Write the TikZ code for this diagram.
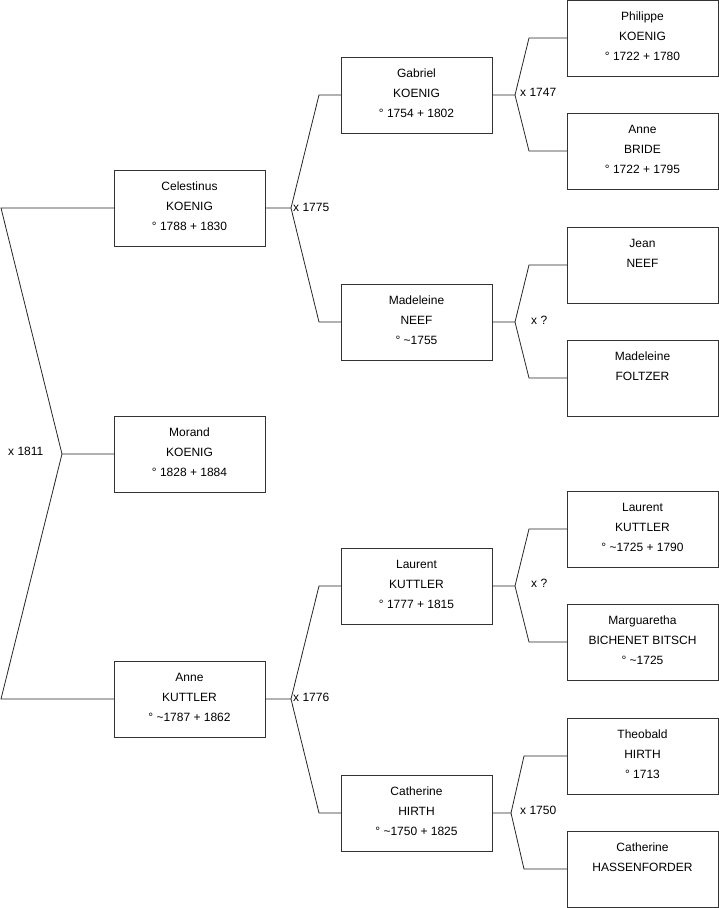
\documentclass[tikz,border=0pt]{standalone}
\usepackage{fontspec}
\setmainfont{Liberation Sans}
\tikzset{
  pbox/.style={draw=black!80, line width=0.8pt, fill=white, minimum width=151pt, minimum height=76pt, inner sep=0pt, outer sep=0pt},
  ptext/.style={anchor=base, inner sep=0pt, font=\fontsize{12}{20}\selectfont},
  link/.style={draw=black!85, line width=0.8pt},
  mlabel/.style={anchor=west, inner sep=0pt, font=\fontsize{12}{20}\selectfont}
}
\newcommand\pbx[4]{%
  \node[pbox] (#1) at (#2,#3) {};
  \node[ptext] at ([yshift=-20pt]#1.north) {\begin{tabular}[t]{@{}c@{}}#4\end{tabular}};
}
\begin{document}
\begin{tikzpicture}[x=1pt,y=-1pt]
\useasboundingbox (0,0) rectangle (719,908);
% level 1
\pbx{morand}{189.5}{454}{Morand\\KOENIG\\° 1828 + 1884}
\pbx{celest}{189.5}{208}{Celestinus\\KOENIG\\° 1788 + 1830}
\pbx{annek}{189.5}{699}{Anne\\KUTTLER\\° \textasciitilde 1787 + 1862}
% level 2
\pbx{gabriel}{416.5}{95}{Gabriel\\KOENIG\\° 1754 + 1802}
\pbx{madneef}{416.5}{322}{Madeleine\\NEEF\\° \textasciitilde 1755}
\pbx{laurent}{416.5}{586}{Laurent\\KUTTLER\\° 1777 + 1815}
\pbx{cathhirth}{416.5}{813}{Catherine\\HIRTH\\° \textasciitilde 1750 + 1825}
% level 3
\pbx{philippe}{642.5}{38}{Philippe\\KOENIG\\° 1722 + 1780}
\pbx{annebride}{642.5}{151}{Anne\\BRIDE\\° 1722 + 1795}
\pbx{jean}{642.5}{265}{Jean\\NEEF}
\pbx{madfoltzer}{642.5}{378}{Madeleine\\FOLTZER}
\pbx{laurentk}{642.5}{529}{Laurent\\KUTTLER\\° \textasciitilde 1725 + 1790}
\pbx{marg}{642.5}{642}{Marguaretha\\BICHENET BITSCH\\° \textasciitilde 1725}
\pbx{theobald}{642.5}{756}{Theobald\\HIRTH\\° 1713}
\pbx{cathhass}{642.5}{869}{Catherine\\HASSENFORDER}
% join points and corners
\coordinate (j1) at (62,454);
\coordinate (c1a) at (1,208);
\coordinate (c1b) at (1,699);
\coordinate (j2) at (291,208);
\coordinate (c2a) at (319,95);
\coordinate (c2b) at (319,322);
\coordinate (j3) at (291,699);
\coordinate (c3a) at (319,586);
\coordinate (c3b) at (319,813);
\coordinate (j4) at (515,95);
\coordinate (c4a) at (529,38);
\coordinate (c4b) at (529,151);
\coordinate (j5) at (515,322);
\coordinate (c5a) at (529,265);
\coordinate (c5b) at (529,378);
\coordinate (j6) at (515,586);
\coordinate (c6a) at (529,529);
\coordinate (c6b) at (529,642);
\coordinate (j7) at (511,813);
\coordinate (c7a) at (524,756);
\coordinate (c7b) at (524,869);
% connectors
\draw[link] (morand.west) -- (j1) -- (c1a) -- (celest.west);
\draw[link] (j1) -- (c1b) -- (annek.west);
\draw[link] (celest.east) -- (j2) -- (c2a) -- (gabriel.west);
\draw[link] (j2) -- (c2b) -- (madneef.west);
\draw[link] (annek.east) -- (j3) -- (c3a) -- (laurent.west);
\draw[link] (j3) -- (c3b) -- (cathhirth.west);
\draw[link] (gabriel.east) -- (j4) -- (c4a) -- (philippe.west);
\draw[link] (j4) -- (c4b) -- (annebride.west);
\draw[link] (madneef.east) -- (j5) -- (c5a) -- (jean.west);
\draw[link] (j5) -- (c5b) -- (madfoltzer.west);
\draw[link] (laurent.east) -- (j6) -- (c6a) -- (laurentk.west);
\draw[link] (j6) -- (c6b) -- (marg.west);
\draw[link] (cathhirth.east) -- (j7) -- (c7a) -- (theobald.west);
\draw[link] (j7) -- (c7b) -- (cathhass.west);
% marriage labels
\node[mlabel] at (8,451) {x 1811};
\node[mlabel] at (293,207) {x 1775};
\node[mlabel] at (293,697) {x 1776};
\node[mlabel] at (520,92) {x 1747};
\node[mlabel] at (531,320) {x ?};
\node[mlabel] at (531,583) {x ?};
\node[mlabel] at (520,810) {x 1750};
\end{tikzpicture}
\end{document}
